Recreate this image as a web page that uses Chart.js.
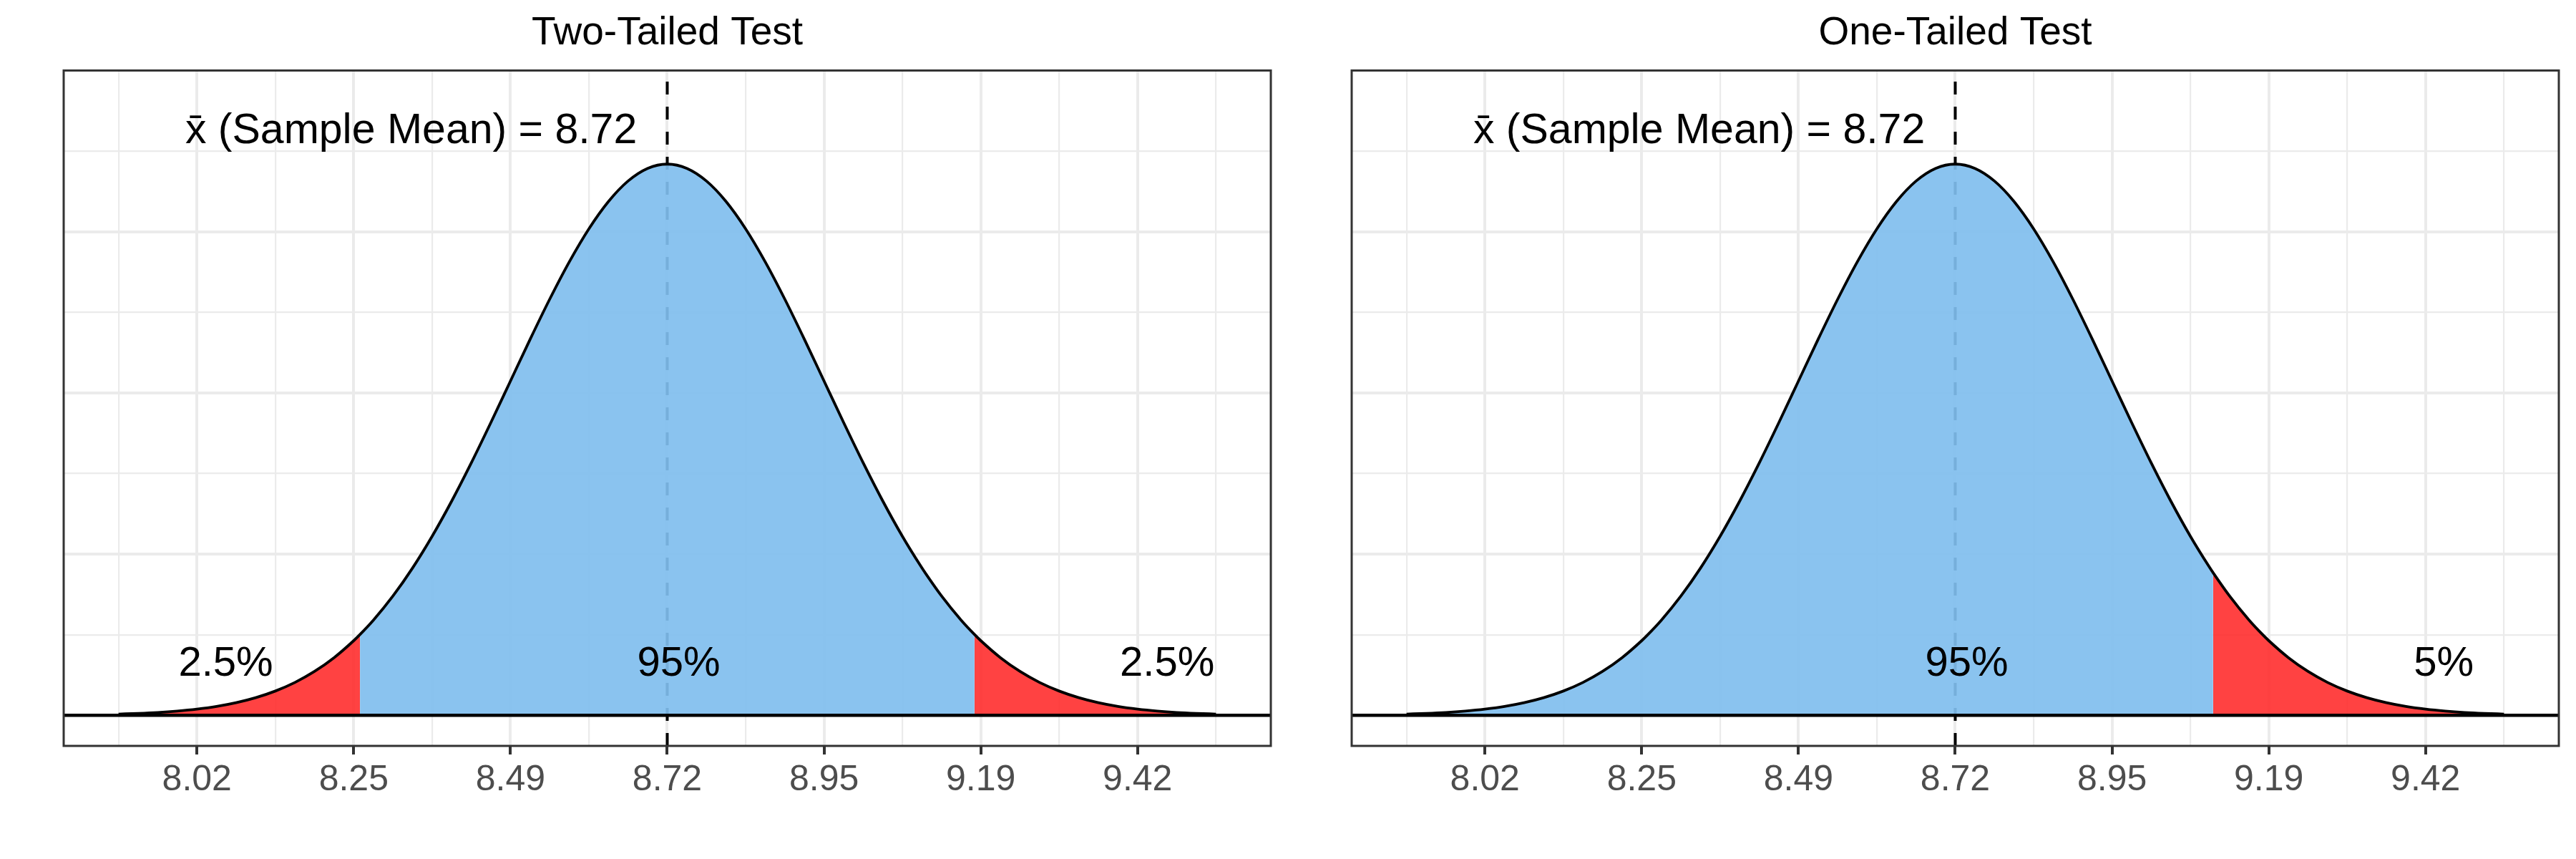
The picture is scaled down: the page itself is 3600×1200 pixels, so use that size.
<!DOCTYPE html>
<html>
<head>
<meta charset="utf-8">
<script src="https://cdn.jsdelivr.net/npm/chart.js@4.4.1/dist/chart.umd.min.js"></script>
<style>
  html, body { margin: 0; padding: 0; background: #fff; }
  #wrap { display: flex; width: 3600px; height: 1200px; }
  .panel { width: 1800px; height: 1200px; }
</style>
</head>
<body>
<div id="wrap">
  <div class="panel"><canvas id="twoTailed" width="1800" height="1200"></canvas></div>
  <div class="panel"><canvas id="oneTailed" width="1800" height="1200"></canvas></div>
</div>
<script>
// Sample
const sampleMean = 8.72;
const sampleSd = 0.2333;

// z positions where the curve was read, and its height there
const zPoints = [-3.5, -3.375, -3.25, -3.125, -3, -2.875, -2.75, -2.625, -2.5, -2.375, -2.25, -2.125, -2, -1.96,
  -1.875, -1.75, -1.625, -1.5, -1.375, -1.25, -1.125, -1, -0.875, -0.75, -0.625, -0.5, -0.375, -0.25, -0.125, 0,
  0.125, 0.25, 0.375, 0.5, 0.625, 0.75, 0.875, 1, 1.125, 1.25, 1.375, 1.5, 1.625, 1.645, 1.75, 1.875, 1.96, 2,
  2.125, 2.25, 2.375, 2.5, 2.625, 2.75, 2.875, 3, 3.125, 3.25, 3.375, 3.5];
const densities = [0.0037, 0.0058, 0.0087, 0.0130, 0.0190, 0.0274, 0.0390, 0.0545, 0.0751, 0.1018, 0.1360, 0.1788, 0.2314, 0.2505,
  0.2948, 0.3698, 0.4566, 0.5551, 0.6644, 0.7828, 0.9080, 1.0370, 1.1660, 1.2906, 1.4064, 1.5089, 1.5937, 1.6572, 1.6965, 1.7097,
  1.6965, 1.6572, 1.5937, 1.5089, 1.4064, 1.2906, 1.1660, 1.0370, 0.9080, 0.7828, 0.6644, 0.5551, 0.4566, 0.4420, 0.3698, 0.2948, 0.2505, 0.2314,
  0.1788, 0.1360, 0.1018, 0.0751, 0.0545, 0.0390, 0.0274, 0.0190, 0.0130, 0.0087, 0.0058, 0.0037];

// x axis ticks (mean ± 1, 2, 3 sd) and minor grid
const tickZ = [-3, -2, -1, 0, 1, 2, 3];
const tickLabels = ["8.02", "8.25", "8.49", "8.72", "8.95", "9.19", "9.42"];
const minorZ = [-3.5, -2.5, -1.5, -0.5, 0.5, 1.5, 2.5, 3.5];

// y grid (axis itself is hidden)
const yMajor = [0, 0.5, 1, 1.5];
const yMinor = [0.25, 0.75, 1.25, 1.75];

// rejection region cut-offs (in sd)
const twoTailedCuts = [-1.96, 1.96];
const oneTailedCut = 1.645;

// text labels
const twoTailedLabels = [
  { x: 8.063, y: 0.123, text: "2.5%" },
  { x: 8.737, y: 0.123, text: "95%" },
  { x: 9.464, y: 0.123, text: "2.5%" }
];
const oneTailedLabels = [
  { x: 8.737, y: 0.123, text: "95%" },
  { x: 9.447, y: 0.123, text: "5%" }
];
const meanLabel = { x: 8.675, y: 1.774, text: "x\u0304 (Sample Mean) = 8.72" };

const xMin = sampleMean - 3.85 * sampleSd;
const xMax = sampleMean + 3.85 * sampleSd;
const yMin = -0.095;
const yMax = 2.0;

const FONT = "'Liberation Sans', Arial, Helvetica, sans-serif";
const BLUE = "rgba(128, 190, 238, 0.92)";
const RED = "rgba(255, 45, 45, 0.9)";

const curve = zPoints.map((z, i) => ({ x: sampleMean + z * sampleSd, y: densities[i] }));
const region = (lo, hi) => curve.filter((p, i) => zPoints[i] >= lo - 1e-9 && zPoints[i] <= hi + 1e-9);

const gridTicks = tickZ.map(z => ({ value: sampleMean + z * sampleSd, major: true }))
  .concat(minorZ.map(z => ({ value: sampleMean + z * sampleSd, major: false })))
  .sort((a, b) => a.value - b.value);
const yGridTicks = yMajor.map(v => ({ value: v, major: true }))
  .concat(yMinor.map(v => ({ value: v, major: false })))
  .sort((a, b) => a.value - b.value);

function fillSet(data, color) {
  return { data, order: 4, fill: "origin", backgroundColor: color, borderColor: "rgba(0,0,0,0)",
    borderWidth: 0, pointRadius: 0, cubicInterpolationMode: "monotone" };
}

// panel border + text annotations
const panelPlugin = {
  id: "panel",
  afterDatasetsDraw(chart, args, opts) {
    const ctx = chart.ctx, xs = chart.scales.x, ys = chart.scales.y;
    ctx.save();
    ctx.fillStyle = "#000";
    ctx.textBaseline = "alphabetic";
    ctx.font = "59px " + FONT;
    ctx.textAlign = "right";
    ctx.fillText(meanLabel.text, xs.getPixelForValue(meanLabel.x), ys.getPixelForValue(meanLabel.y));
    ctx.font = "58px " + FONT;
    ctx.textAlign = "center";
    opts.labels.forEach(l => {
      ctx.fillText(l.text, xs.getPixelForValue(l.x), ys.getPixelForValue(l.y));
    });
    ctx.restore();
  },
  afterDraw(chart) {
    const a = chart.chartArea, ctx = chart.ctx;
    ctx.save();
    ctx.strokeStyle = "#333333";
    ctx.lineWidth = 3;
    ctx.strokeRect(a.left, a.top, a.right - a.left, a.bottom - a.top);
    ctx.restore();
  }
};

function makeChart(id, title, fills, labels) {
  const datasets = [
    { data: [{ x: sampleMean, y: yMin }, { x: sampleMean, y: yMax }], order: 5, borderColor: "#000",
      borderWidth: 4, borderDash: [18, 17], pointRadius: 0, tension: 0, fill: false },
    ...fills,
    { data: curve, order: 2, borderColor: "#000", borderWidth: 3.8, pointRadius: 0, fill: false,
      cubicInterpolationMode: "monotone" },
    { data: [{ x: xMin, y: 0 }, { x: xMax, y: 0 }], order: 1, borderColor: "#000", borderWidth: 4.5,
      pointRadius: 0, tension: 0, fill: false }
  ];

  return new Chart(document.getElementById(id), {
    type: "line",
    data: { datasets },
    plugins: [panelPlugin],
    options: {
      responsive: false,
      animation: false,
      events: [],
      devicePixelRatio: 1,
      layout: { padding: { left: 89, right: 24, top: 0, bottom: 80 } },
      plugins: {
        legend: { display: false },
        tooltip: { enabled: false },
        title: {
          display: true, text: title, color: "#000",
          font: { family: FONT, size: 55, weight: "normal" },
          padding: { top: 14, bottom: 18.5 }
        },
        panel: { labels }
      },
      scales: {
        x: {
          type: "linear", min: xMin, max: xMax,
          afterBuildTicks: axis => { axis.ticks = gridTicks.map(t => ({ value: t.value })); },
          afterFit: axis => { axis.height = 78; },
          ticks: {
            autoSkip: false, maxRotation: 0, minRotation: 0, padding: 6,
            color: "#4D4D4D", font: { family: FONT, size: 50 },
            callback: value => {
              const i = tickZ.findIndex(z => Math.abs(sampleMean + z * sampleSd - value) < 1e-6);
              return i >= 0 ? tickLabels[i] : "";
            }
          },
          grid: {
            color: "#EBEBEB",
            lineWidth: c => (gridTicks[c.index] && gridTicks[c.index].major ? 4 : 2.2),
            drawTicks: true, tickLength: 12,
            tickColor: c => (gridTicks[c.index] && gridTicks[c.index].major ? "#333333" : "rgba(0,0,0,0)"),
            tickWidth: 4
          },
          border: { display: false }
        },
        y: {
          type: "linear", min: yMin, max: yMax,
          afterBuildTicks: axis => { axis.ticks = yGridTicks.map(t => ({ value: t.value })); },
          afterFit: axis => { axis.width = 0; },
          ticks: { display: false },
          grid: {
            color: "#EBEBEB", drawTicks: false,
            lineWidth: c => (yGridTicks[c.index] && yGridTicks[c.index].major ? 4 : 2.2)
          },
          border: { display: false }
        }
      }
    }
  });
}

makeChart("twoTailed", "Two-Tailed Test", [
  fillSet(region(-3.5, twoTailedCuts[0]), RED),
  fillSet(region(twoTailedCuts[0], twoTailedCuts[1]), BLUE),
  fillSet(region(twoTailedCuts[1], 3.5), RED)
], twoTailedLabels);

makeChart("oneTailed", "One-Tailed Test", [
  fillSet(region(-3.5, oneTailedCut), BLUE),
  fillSet(region(oneTailedCut, 3.5), RED)
], oneTailedLabels);
</script>
</body>
</html>
